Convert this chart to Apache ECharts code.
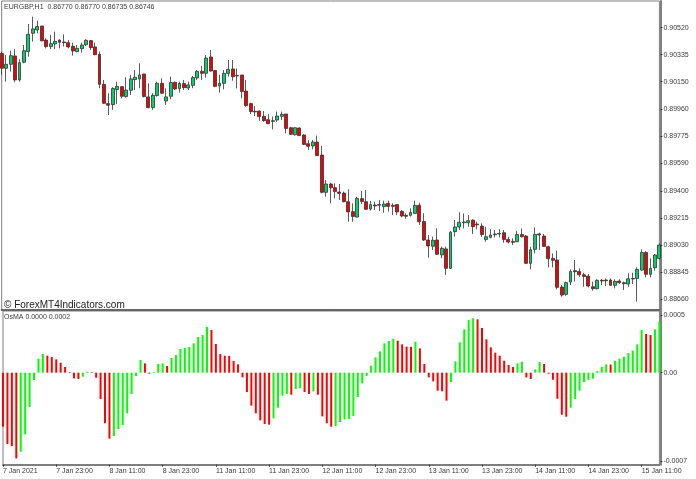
<!doctype html>
<html>
<head>
    <meta charset="utf-8">
    <title>EURGBP H1 OsMA</title>
    <style>
        html, body { margin: 0; padding: 0; background: #fff; }
        #chart { width: 696px; height: 479px; }
    </style>
</head>
<body>
<div id="chart"></div>
<script src="https://cdn.jsdelivr.net/npm/echarts@6/dist/echarts.min.js"></script>
<script>
    // hourly candles, one entry per bar
    var opens = [
        0.90344,0.90242,0.90269,0.90326,0.90162,0.90283,0.90356,0.90481,0.90504,0.90531,
        0.90435,0.90390,0.90408,0.90435,0.90422,0.90417,0.90392,0.90356,0.90376,0.90403,
        0.90431,0.90388,0.90337,0.90132,0.90000,0.89993,0.90096,0.90116,0.90048,0.90091,
        0.90164,0.90169,0.90203,0.90046,0.89973,0.90055,0.90139,0.90018,0.90050,0.90146,
        0.90103,0.90137,0.90107,0.90125,0.90175,0.90221,0.90207,0.90319,0.90226,0.90121,
        0.90139,0.90207,0.90237,0.90193,0.90196,0.90086,0.90000,0.89947,0.89949,0.89913,
        0.89890,0.89883,0.89888,0.89913,0.89929,0.89835,0.89787,0.89833,0.89785,0.89726,
        0.89710,0.89737,0.89648,0.89393,0.89450,0.89425,0.89395,0.89388,0.89329,0.89261,
        0.89224,0.89350,0.89329,0.89279,0.89306,0.89305,0.89295,0.89318,0.89304,0.89309,
        0.89263,0.89236,0.89236,0.89249,0.89304,0.89193,0.89067,0.89024,0.89067,0.88965,
        0.89006,0.88873,0.89124,0.89156,0.89185,0.89185,0.89203,0.89176,0.89162,0.89071,
        0.89085,0.89103,0.89108,0.89117,0.89071,0.89057,0.89055,0.89105,0.89094,0.88907,
        0.89003,0.89108,0.89094,0.89021,0.88941,0.88930,0.88745,0.88695,0.88779,0.88857,
        0.88852,0.88829,0.88820,0.88747,0.88734,0.88791,0.88793,0.88793,0.88757,0.88786,
        0.88775,0.88766,0.88804,0.88804,0.88861,0.88982,0.88832,0.88877,0.88941
    ];
    var closes = [
        0.90242,0.90269,0.90328,0.90162,0.90280,0.90362,0.90474,0.90511,0.90527,0.90429,
        0.90390,0.90410,0.90426,0.90419,0.90417,0.90388,0.90360,0.90378,0.90401,0.90433,
        0.90383,0.90335,0.90132,0.90002,0.89989,0.90103,0.90118,0.90050,0.90093,0.90169,
        0.90180,0.90196,0.90048,0.89973,0.90057,0.90139,0.90071,0.90046,0.90144,0.90100,
        0.90137,0.90109,0.90128,0.90178,0.90221,0.90207,0.90312,0.90223,0.90118,0.90139,
        0.90207,0.90234,0.90184,0.90189,0.90082,0.89986,0.89945,0.89943,0.89911,0.89883,
        0.89863,0.89879,0.89915,0.89927,0.89829,0.89790,0.89835,0.89781,0.89721,0.89708,
        0.89737,0.89644,0.89393,0.89450,0.89425,0.89398,0.89386,0.89329,0.89259,0.89227,
        0.89352,0.89331,0.89277,0.89309,0.89300,0.89309,0.89313,0.89297,0.89297,0.89259,
        0.89231,0.89229,0.89256,0.89304,0.89192,0.89067,0.89026,0.89065,0.88969,0.89010,
        0.88873,0.89120,0.89156,0.89188,0.89190,0.89199,0.89158,0.89171,0.89105,0.89089,
        0.89101,0.89108,0.89112,0.89071,0.89053,0.89051,0.89105,0.89089,0.88907,0.89000,
        0.89105,0.89101,0.89023,0.88939,0.88928,0.88743,0.88690,0.88775,0.88852,0.88850,
        0.88829,0.88818,0.88752,0.88734,0.88791,0.88786,0.88788,0.88757,0.88784,0.88775,
        0.88768,0.88802,0.88800,0.88866,0.88982,0.88832,0.88873,0.88964,0.89032
    ];
    var lows = [
        0.90196,0.90150,0.90219,0.90146,0.90150,0.90276,0.90321,0.90424,0.90481,0.90429,
        0.90378,0.90372,0.90372,0.90378,0.90390,0.90378,0.90328,0.90351,0.90349,0.90394,
        0.90367,0.90331,0.90105,0.89998,0.89922,0.89957,0.89998,0.90036,0.90041,0.90059,
        0.90093,0.90105,0.90043,0.89968,0.89957,0.90048,0.90066,0.89991,0.90030,0.90093,
        0.90075,0.90093,0.90093,0.90105,0.90162,0.90162,0.90178,0.90219,0.90112,0.90075,
        0.90098,0.90184,0.90157,0.90104,0.90036,0.89979,0.89929,0.89915,0.89883,0.89876,
        0.89860,0.89824,0.89874,0.89888,0.89797,0.89785,0.89781,0.89778,0.89717,0.89683,
        0.89687,0.89642,0.89386,0.89363,0.89318,0.89352,0.89341,0.89325,0.89192,0.89192,
        0.89220,0.89313,0.89272,0.89268,0.89272,0.89265,0.89254,0.89261,0.89238,0.89238,
        0.89222,0.89211,0.89227,0.89245,0.89170,0.89060,0.88946,0.88999,0.88965,0.88942,
        0.88828,0.88869,0.89090,0.89136,0.89146,0.89158,0.89108,0.89140,0.89089,0.89055,
        0.89078,0.89085,0.89085,0.89048,0.89044,0.89032,0.89053,0.89085,0.88902,0.88866,
        0.88975,0.88998,0.89021,0.88880,0.88880,0.88729,0.88679,0.88686,0.88759,0.88782,
        0.88816,0.88747,0.88743,0.88720,0.88729,0.88759,0.88752,0.88752,0.88736,0.88766,
        0.88725,0.88747,0.88766,0.88645,0.88857,0.88811,0.88811,0.88857,0.88934
    ];
    var highs = [
        0.90356,0.90333,0.90362,0.90372,0.90303,0.90401,0.90545,0.90595,0.90568,0.90531,
        0.90447,0.90470,0.90492,0.90440,0.90474,0.90435,0.90417,0.90401,0.90417,0.90440,
        0.90435,0.90417,0.90356,0.90162,0.90071,0.90112,0.90150,0.90121,0.90180,0.90196,
        0.90230,0.90276,0.90203,0.90139,0.90071,0.90150,0.90173,0.90105,0.90185,0.90150,
        0.90150,0.90162,0.90150,0.90189,0.90230,0.90258,0.90333,0.90367,0.90230,0.90196,
        0.90230,0.90298,0.90298,0.90241,0.90196,0.90161,0.90006,0.89984,0.89952,0.89949,
        0.89929,0.89911,0.89945,0.89945,0.89929,0.89842,0.89838,0.89838,0.89790,0.89751,
        0.89751,0.89781,0.89710,0.89477,0.89459,0.89455,0.89450,0.89398,0.89414,0.89318,
        0.89363,0.89404,0.89409,0.89334,0.89329,0.89341,0.89336,0.89336,0.89318,0.89313,
        0.89272,0.89249,0.89284,0.89336,0.89322,0.89250,0.89101,0.89090,0.89147,0.89022,
        0.89022,0.89130,0.89204,0.89256,0.89249,0.89238,0.89208,0.89192,0.89181,0.89158,
        0.89140,0.89135,0.89140,0.89135,0.89089,0.89078,0.89130,0.89146,0.89101,0.89021,
        0.89153,0.89117,0.89108,0.89028,0.88975,0.88994,0.88759,0.88782,0.88866,0.88930,
        0.88873,0.88843,0.88834,0.88782,0.88798,0.88800,0.88804,0.88804,0.88798,0.88798,
        0.88782,0.88839,0.88843,0.88880,0.89003,0.88991,0.88941,0.88971,0.89044
    ];
    var osma = [
        -0.000429,-0.000567,-0.000583,-0.000681,-0.000628,-0.000490,-0.000273,-0.000058,0.000111,0.000148,
        0.000135,0.000124,0.000106,0.000079,0.000045,0.000005,-0.000045,-0.000050,-0.000032,0.000008,
        0.000005,-0.000040,-0.000209,-0.000402,-0.000524,-0.000503,-0.000448,-0.000416,-0.000323,-0.000169,
        -0.000026,0.000101,0.000074,-0.000008,0.000005,0.000069,0.000074,0.000053,0.000117,0.000140,
        0.000188,0.000196,0.000204,0.000233,0.000283,0.000299,0.000363,0.000339,0.000228,0.000148,
        0.000135,0.000134,0.000093,0.000066,-0.000037,-0.000154,-0.000262,-0.000323,-0.000379,-0.000408,
        -0.000413,-0.000363,-0.000278,-0.000183,-0.000169,-0.000175,-0.000130,-0.000124,-0.000154,-0.000169,
        -0.000148,-0.000175,-0.000347,-0.000402,-0.000429,-0.000424,-0.000392,-0.000371,-0.000368,-0.000344,
        -0.000193,-0.000085,-0.000026,0.000056,0.000122,0.000169,0.000233,0.000252,0.000270,0.000254,
        0.000225,0.000207,0.000206,0.000246,0.000193,0.000069,-0.000037,-0.000069,-0.000143,-0.000148,
        -0.000222,-0.000074,0.000090,0.000241,0.000344,0.000418,0.000432,0.000424,0.000355,0.000265,
        0.000201,0.000159,0.000135,0.000095,0.000061,0.000045,0.000074,0.000087,-0.000037,-0.000050,
        0.000026,0.000085,0.000069,-0.000008,-0.000056,-0.000207,-0.000334,-0.000350,-0.000278,-0.000209,
        -0.000143,-0.000074,-0.000058,-0.000048,0.000013,0.000045,0.000066,0.000065,0.000095,0.000111,
        0.000127,0.000156,0.000175,0.000225,0.000339,0.000307,0.000299,0.000344,0.000405
    ];
    // one label every 12 bars
    var timeLabels = ['7 Jan 2021','7 Jan 23:00','8 Jan 11:00','8 Jan 23:00','11 Jan 11:00','11 Jan 23:00',
        '12 Jan 11:00','12 Jan 23:00','13 Jan 11:00','13 Jan 23:00','14 Jan 11:00','14 Jan 23:00','15 Jan 11:00'];
    var priceLabels = ['0.90520','0.90335','0.90150','0.89960','0.89775','0.89590','0.89400','0.89215','0.89030','0.88845','0.88660'];
    var osmaTicks = [0.00046, 0, -0.0007];
    var osmaLabels = ['0.0005', '0.00', '-0.0007'];

    var categories = opens.map(function (v, i) {
        return i % 12 === 0 ? timeLabels[i / 12] : '';
    });
    var candles = opens.map(function (v, i) {
        return [v, closes[i], lows[i], highs[i]];
    });

    var fontName = '"Liberation Sans", Arial, sans-serif';
    var labelColor = '#3a3a3a';
    var axisColor = '#7f7f7f';

    var myChart = echarts.init(document.getElementById('chart'), null, {renderer: 'canvas'});
    myChart.setOption({
        animation: false,
        backgroundColor: '#fff',
        title: [
            {text: 'EURGBP,H1  0.86770 0.86770 0.86735 0.86746', left: 4, top: 3.5, padding: 0,
                textStyle: {fontFamily: fontName, fontSize: 7, fontWeight: 'normal', color: labelColor}},
            {text: '© ForexMT4Indicators.com', left: 4, top: 300.5, padding: 0,
                textStyle: {fontFamily: fontName, fontSize: 10, fontWeight: 'normal', color: '#222'}},
            {text: 'OsMA 0.0000 0.0002', left: 4, top: 313.5, padding: 0,
                textStyle: {fontFamily: fontName, fontSize: 7, fontWeight: 'normal', color: labelColor}}
        ],
        grid: [
            {left: 1.7, width: 657.7, top: 1, height: 309, show: true, borderColor: axisColor, borderWidth: 1, backgroundColor: '#fff'},
            {left: 1.7, width: 657.7, top: 311, height: 153.7, show: true, borderColor: axisColor, borderWidth: 1, backgroundColor: '#fff'}
        ],
        xAxis: [
            {
                type: 'category', gridIndex: 0, data: categories, boundaryGap: false,
                axisLine: {show: true, lineStyle: {color: '#666', width: 2}},
                axisTick: {show: false}, axisLabel: {show: false}, splitLine: {show: false}
            },
            {
                type: 'category', gridIndex: 1, data: categories, boundaryGap: false,
                axisLine: {show: true, onZero: false, lineStyle: {color: axisColor, width: 2}},
                axisTick: {show: true, interval: 11, length: 2, lineStyle: {color: '#333'}},
                axisLabel: {interval: 11, align: 'left', margin: 3, fontFamily: fontName, fontSize: 7, color: labelColor, hideOverlap: false},
                splitLine: {show: false}
            }
        ],
        yAxis: [
            {
                type: 'value', gridIndex: 0, position: 'right', offset: 1, min: 0.88588, max: 0.90702,
                axisLine: {show: true, lineStyle: {color: axisColor, width: 2}},
                axisTick: {show: true, length: 2, lineStyle: {color: '#333'}, customValues: priceLabels.map(Number)},
                axisLabel: {
                    margin: 3, fontFamily: fontName, fontSize: 7, color: labelColor,
                    customValues: priceLabels.map(Number),
                    formatter: function (v) { return v.toFixed(5); }
                },
                splitLine: {show: false}
            },
            {
                type: 'value', gridIndex: 1, position: 'right', offset: 1, min: -0.000731, max: 0.00049,
                axisLine: {show: true, lineStyle: {color: axisColor, width: 2}},
                axisTick: {show: true, length: 2, lineStyle: {color: '#333'}, customValues: osmaTicks},
                axisLabel: {
                    margin: 3, fontFamily: fontName, fontSize: 7, color: labelColor,
                    customValues: osmaTicks,
                    formatter: function (v) { return osmaLabels[osmaTicks.indexOf(v)]; }
                },
                splitLine: {show: false}
            }
        ],
        series: [
            {
                type: 'candlestick', xAxisIndex: 0, yAxisIndex: 0, data: candles, barWidth: 3.4, clip: false,
                itemStyle: {color: '#00d26a', color0: '#f00000', borderColor: '#333', borderColor0: '#333', borderWidth: 0.8}
            },
            {
                type: 'bar', xAxisIndex: 1, yAxisIndex: 1, data: osma, barWidth: 2, clip: false,
                itemStyle: {
                    // rising bars are green, falling bars red
                    color: function (p) {
                        return p.dataIndex > 0 && osma[p.dataIndex] > osma[p.dataIndex - 1] ? '#00ff00' : '#ff0000';
                    }
                }
            }
        ]
    });
</script>
</body>
</html>
